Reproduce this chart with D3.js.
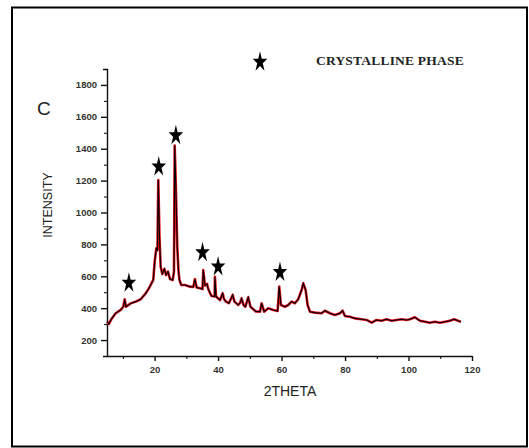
<!DOCTYPE html>
<html>
<head>
<meta charset="utf-8">
<script src="https://cdn.jsdelivr.net/npm/d3@7/dist/d3.min.js"></script>
<style>
  body { margin: 0; background: #fff; }
  svg { display: block; }
</style>
</head>
<body>
<script>
// diffraction pattern
const twoTheta = [5.0, 5.6, 6.35, 7.74, 9.31, 10.13, 10.57, 11.0, 12.46, 14.04, 15.61, 17.19, 18.23, 19.58, 20.02, 20.53, 20.9, 21.16, 21.54, 21.91,
  22.42, 23.1, 23.58, 24.2, 24.84, 25.7, 26.1, 26.32, 26.6, 27.14, 27.5, 27.83, 28.4, 29.57, 31.14, 32.2, 32.7, 33.25, 34.29, 35.1,
  35.33, 35.87, 36.5, 36.9, 37.6, 37.98, 38.9, 39.0, 39.35, 39.96, 40.6, 41.44, 41.85, 42.48, 43.4, 44.6, 45.16, 46.35, 46.9, 47.4,
  48.0, 48.6, 49.5, 50.2, 51.0, 51.9, 53.2, 53.7, 54.5, 55.8, 57.4, 58.76, 59.27, 59.8, 61.06, 62.1, 63.17, 64.21, 65.25, 66.32,
  66.83, 67.58, 68.2, 68.94, 70.5, 72.6, 73.66, 75.24, 76.8, 78.4, 79.24, 79.96, 81.5, 83.1, 85.2, 86.8, 88.4, 89.9, 91.5, 93.1,
  94.7, 96.2, 97.8, 99.4, 100.4, 102.0, 103.6, 105.2, 106.7, 108.3, 109.9, 111.5, 113.0, 114.4, 115.6, 116.5];
const intensity = [315, 301, 330, 368, 389, 409, 455, 409, 430, 441, 456, 493, 525, 577, 690, 775, 765, 1204, 848, 660,
  614, 646, 608, 629, 583, 577, 627, 1420, 1230, 786, 639, 577, 545, 545, 535, 533, 583, 530, 525, 520,
  639, 542, 552, 520, 489, 476, 473, 597, 473, 462, 451, 493, 458, 441, 431, 483, 441, 420, 432, 462,
  420, 409, 468, 409, 395, 379, 378, 431, 378, 399, 389, 382, 535, 420, 409, 420, 441, 431, 456, 514,
  556, 514, 420, 378, 372, 368, 384, 368, 357, 368, 384, 351, 346, 336, 330, 326, 309, 326, 321, 330,
  321, 326, 330, 326, 330, 343, 321, 315, 309, 315, 309, 315, 321, 330, 321, 315];

// crystalline phase markers
const starTheta = [11.9, 21.3, 26.7, 35.1, 40.0, 59.5];
const starIntensity = [558, 1287, 1483, 749, 660, 625];

const xMajor = [20, 40, 60, 80, 100, 120];
const xMinor = [10, 30, 50, 70, 90, 110];
const yMajor = [200, 400, 600, 800, 1000, 1200, 1400, 1600, 1800];
const yMinor = [300, 500, 700, 900, 1100, 1300, 1500, 1700];

const width = 529;
const height = 448;

const svg = d3.select("body")
  .append("svg")
  .attr("width", width)
  .attr("height", height);

svg.append("rect")
  .attr("x", 12)
  .attr("y", 7.5)
  .attr("width", 515)
  .attr("height", 439)
  .attr("fill", "none")
  .attr("stroke", "#000")
  .attr("stroke-width", 2);

const x = d3.scaleLinear().domain([5, 120]).range([107, 472]);
const y = d3.scaleLinear().domain([100, 1900]).range([356, 69]);

const axisFont = "'Liberation Sans', Arial, sans-serif";

// minor ticks first, majors on top
svg.append("g")
  .attr("transform", "translate(0,356)")
  .call(d3.axisBottom(x).tickValues(xMinor).tickSize(3).tickFormat(""))
  .call(g => g.select(".domain").remove());
svg.append("g")
  .attr("transform", "translate(107,0)")
  .call(d3.axisLeft(y).tickValues(yMinor).tickSize(3).tickFormat(""))
  .call(g => g.select(".domain").remove());

const xAxis = svg.append("g")
  .attr("transform", "translate(0,356)")
  .call(d3.axisBottom(x).tickValues(xMajor).tickSize(5).tickSizeOuter(0).tickPadding(5).tickFormat(d3.format("d")));

const yAxis = svg.append("g")
  .attr("transform", "translate(107,0)")
  .call(d3.axisLeft(y).tickValues(yMajor).tickSize(6).tickSizeOuter(4).tickPadding(4).tickFormat(d3.format("d")));

[xAxis, yAxis].forEach(a => {
  a.selectAll("path, line").attr("stroke", "#111").attr("stroke-width", 1.4);
  a.selectAll("text")
    .attr("font-family", axisFont)
    .attr("font-size", 9.5)
    .attr("font-weight", "bold")
    .attr("fill", "#333");
});

const pts = twoTheta.map((t, i) => [t, intensity[i]]);
const line = d3.line().x(d => x(d[0])).y(d => y(d[1]));

svg.append("path")
  .datum(pts)
  .attr("fill", "none")
  .attr("stroke", "#e3121c")
  .attr("stroke-width", 2.6)
  .attr("stroke-linejoin", "round")
  .attr("d", line);

svg.append("path")
  .datum(pts)
  .attr("fill", "none")
  .attr("stroke", "#000")
  .attr("stroke-width", 1.1)
  .attr("d", line);

const star = d3.symbol().type(d3.symbolStar).size(66);

svg.selectAll(".star")
  .data(starTheta)
  .enter()
  .append("path")
    .attr("class", "star")
    .attr("d", star)
    .attr("transform", (d, i) => `translate(${x(d)},${y(starIntensity[i])}) scale(1,1.4)`)
    .attr("fill", "#000");

// legend
svg.append("path")
  .attr("d", star)
  .attr("transform", "translate(260,62) scale(1,1.4)")
  .attr("fill", "#000");

svg.append("text")
  .attr("x", 316)
  .attr("y", 65)
  .attr("font-family", "'Liberation Serif', 'Times New Roman', serif")
  .attr("font-weight", "bold")
  .attr("font-size", 13.5)
  .attr("letter-spacing", 0.2)
  .attr("fill", "#222")
  .text("CRYSTALLINE PHASE");

svg.append("text")
  .attr("x", 37)
  .attr("y", 115)
  .attr("font-family", axisFont)
  .attr("font-size", 19)
  .attr("fill", "#222")
  .text("C");

svg.append("text")
  .attr("transform", "translate(52,205) rotate(-90)")
  .attr("text-anchor", "middle")
  .attr("font-family", axisFont)
  .attr("font-size", 12.5)
  .attr("fill", "#222")
  .text("INTENSITY");

svg.append("text")
  .attr("x", 290)
  .attr("y", 396)
  .attr("text-anchor", "middle")
  .attr("font-family", axisFont)
  .attr("font-size", 14)
  .attr("fill", "#222")
  .text("2THETA");
</script>
</body>
</html>
